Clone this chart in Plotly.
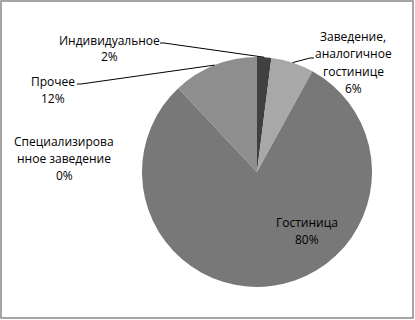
import math
import plotly.graph_objects as go

categories = ["Индивидуальное", "Заведение, аналогичное гостинице", "Гостиница",
              "Специализированное заведение", "Прочее"]
values = [2, 6, 80, 0, 12]
label_lines = [["Индивидуальное", "2%"],
               ["Заведение,", "аналогичное", "гостинице", "6%"],
               ["Гостиница", "80%"],
               ["Специализирова", "нное заведение", "0%"],
               ["Прочее", "12%"]]
colors = ["#404040", "#a8a8a8", "#787878", "#5a5a5a", "#8e8e8e"]

W, H = 415, 320
cx, cy, R = 257, 172, 115  # pie centre / radius in pixels (from top-left)

fig = go.Figure(go.Pie(
    labels=categories, values=values, sort=False, direction="clockwise",
    rotation=0, marker=dict(colors=colors, line=dict(width=0)),
    textinfo="none", hoverinfo="label+percent", showlegend=False,
    domain=dict(x=[(cx - R) / W, (cx + R) / W], y=[(H - cy - R) / H, (H - cy + R) / H]),
))

FONT = "Open Sans"
fsize = 12
# label anchor (centre x, first line y) in pixels, and whether a leader line is drawn
label_pos = [(109, 40, True), (353, 37, True), (307, 222, False), (64, 141, False), (53, 81, True)]
line_start = {0: (160, 43), 1: (314, 58), 4: (77, 84)}
lh = 17

total = sum(values)
cum = 0
shapes = []
annotations = []
for i, v in enumerate(values):
    mid = (cum + v / 2) / total * 2 * math.pi
    cum += v
    lx, ly, leader = label_pos[i]
    for k, t in enumerate(label_lines[i]):
        annotations.append(dict(x=lx / W, y=1 - (ly + k * lh) / H, xref="paper", yref="paper",
                                text=t, showarrow=False, xanchor="center", yanchor="middle",
                                font=dict(family=FONT, size=fsize, color="#000000")))
    if leader:
        tx = cx + R * math.sin(mid)
        ty = cy - R * math.cos(mid)
        sx, sy = line_start[i]
        ex = sx + (4 if sx < tx else -4)
        path = f"M {sx/W} {1-sy/H} L {ex/W} {1-sy/H} L {tx/W} {1-ty/H}"
        shapes.append(dict(type="path", xref="paper", yref="paper", path=path,
                           line=dict(color="#000000", width=1)))

shapes.append(dict(type="rect", xref="paper", yref="paper",
                   x0=1 / W, x1=1 - 2 / W, y0=2 / H, y1=1 - 1 / H,
                   line=dict(color="#888888", width=1.5)))

fig.update_layout(width=W, height=H, margin=dict(l=0, r=0, t=0, b=0),
                  paper_bgcolor="white", plot_bgcolor="white",
                  shapes=shapes, annotations=annotations)
fig.write_html("out.html", config={"displayModeBar": False},
               post_script="document.body.style.margin='0';document.body.style.overflow='hidden';")
